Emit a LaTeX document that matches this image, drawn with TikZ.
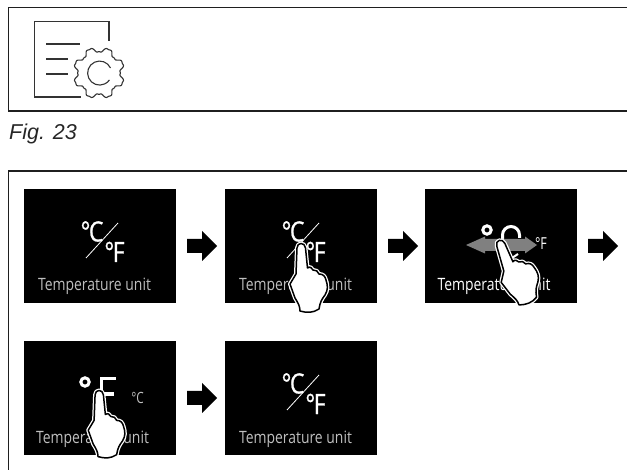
\documentclass[tikz,border=0pt]{standalone}
\usepackage{fontspec}
\setmainfont{Open Sans}
\newfontfamily\figfont{Liberation Sans}
\newfontfamily\labelfont[FakeStretch=0.82]{Open Sans}
\newfontfamily\bigfont[FakeStretch=0.82,FakeBold=0.8]{Open Sans}
\newfontfamily\smallfont[FakeStretch=0.76]{Open Sans}
\usetikzlibrary{calc}
\definecolor{lab}{gray}{0.75}
\definecolor{frameline}{gray}{0.12}
\definecolor{greyarrow}{gray}{0.5}
\tikzset{
  x=1pt,y=-1pt,
  frameline/.style={draw=frameline,line width=1.3pt},
  screen/.style={fill=black},
  flow/.style={fill=black},
  iconline/.style={draw=black!80,line width=1.1pt},
  label/.style={inner sep=0pt,text=lab,font=\labelfont\fontsize{17}{18}\selectfont,anchor=base},
  big/.style={inner sep=0pt,text=white,font=\bigfont\fontsize{28}{29}\selectfont,anchor=base},
  small/.style={inner sep=0pt,font=\smallfont\fontsize{16.5}{17}\selectfont,anchor=base},
  pics/hand/.style={code={
    \path[draw=white,fill=white,line width=4pt,line join=round] \handpath;
    \path[draw=black,fill=white,line width=1.5pt,line join=round] \handpath;
  }}
}
\newcommand{\handpath}{(-4,5) .. controls (-4,-1) and (4,-1) .. (4.5,5) -- (6.5,25)
  .. controls (9,23) and (11,25) .. (12,27) .. controls (15,27) and (17,28) .. (18,31)
  .. controls (22,31) and (24,33) .. (25,37) .. controls (27,43) and (27,47) .. (24,52)
  .. controls (21,56) and (19,59) .. (18,66) .. controls (12,70) and (6,70) .. (-1,68)
  .. controls (-1,63) and (-3,60) .. (-6,55) -- (-11,41) -- (-5,31) -- cycle}
\newcommand{\screenlabel}[2]{\node[label] at (#1,#2) {Temperature unit};}
\newcommand{\flowarrow}[3]{\draw[flow,draw=none] (#1,#2-7) coordinate (#3) -- ++(15,0) -- ++(0,-8) -- ++(15,15) -- ++(-15,15) -- ++(0,-8) -- ++(-15,0) -- cycle;}
\newcommand{\cf}[2]{%
  \node[big] at (#1-8,#2+1.5) {°\kern-1.5pt C};
  \node[big] at (#1+14.5,#2+22) {°\kern-1.5pt F};
  \draw[white,line width=0.8pt] (#1-14,#2+18) -- (#1+18,#2-17);}
\begin{document}
\begin{tikzpicture}
\useasboundingbox (0,0) rectangle (627,470);
% top frame
\draw[frameline] (627,7.5) -- (8.5,7.5) -- (8.5,111) -- (627,111);
% icon
\draw[iconline] (109,41) -- (109,21.5) -- (34.5,21.5) -- (34.5,97) -- (81,97);
\draw[iconline] (46,44) -- (80,44) (46,59) -- (68,59) (46,74) -- (68,74);
\draw[iconline,smooth,samples=193,domain=0:360] plot ({99+(23.3+2.6*(-cos(8*\x)+0.25*cos(24*\x)))*cos(\x)},{73+(23.3+2.6*(-cos(8*\x)+0.25*cos(24*\x)))*sin(\x)});
\draw[iconline] (110.5,68) arc[start angle=-25,end angle=-325,radius=12];
% caption
\node[inner sep=0pt,anchor=base west,text=black!85,font=\figfont\itshape\fontsize{21.5}{22}\selectfont] (caption) at (9,140) {Fig. 23};
% lower frame
\draw[frameline] (627,171) -- (8.5,171) -- (8.5,470);
% screens
\fill[screen] (24,189) rectangle (176,303);
\fill[screen] (225,189) rectangle (377,303);
\fill[screen] (425,189) rectangle (577,303);
\fill[screen] (24,341) rectangle (176,455);
\fill[screen] (225,341) rectangle (377,455);
% arrows
\flowarrow{187}{246}{a1}
\flowarrow{388}{246}{a2}
\flowarrow{588}{246}{a3}
\flowarrow{187}{398}{a4}
% screen 1
\cf{100}{240}
\screenlabel{94.5}{291}
% screen 2
\cf{301}{240}
\screenlabel{295.5}{291}
\path (301,243) pic {hand};
% screen 3
\draw[white,line width=3pt] (487,230) circle[radius=4.2];
\draw[white,line width=3pt] (502.5,250) -- (502.5,235) arc[start angle=180,end angle=360,radius=8.5] -- (519.5,238);
\draw[white,line width=2pt] (512,258) -- (518,254);
\fill[greyarrow] (466,245) -- (485,236.5) -- (485,239) -- (525,239) -- (525,236.5) -- (537,245) -- (525,253.5) -- (525,251) -- (485,251) -- (485,253.5) -- cycle;
\node[small,text=white] at (541,250) {°F};
\node[label,text=white] at (494,291) {Temperature unit};
\path (499,240) pic[rotate=18] {hand};
% screen 4
\draw[white,line width=3pt] (85,382) circle[radius=4.2];
\draw[white,line width=3.2pt] (101.5,412) -- (101.5,378.5) -- (115.5,378.5) (101.5,394) -- (114,394);
\node[small,text=lab,font=\smallfont\fontsize{15.5}{16}\selectfont] at (137.5,403) {°C};
\node[label] at (92.5,443) {Temperature unit};
\path (99,390) pic[scale=0.98] {hand};
% screen 5
\cf{301}{392}
\screenlabel{295.5}{443}
\end{tikzpicture}
\end{document}
